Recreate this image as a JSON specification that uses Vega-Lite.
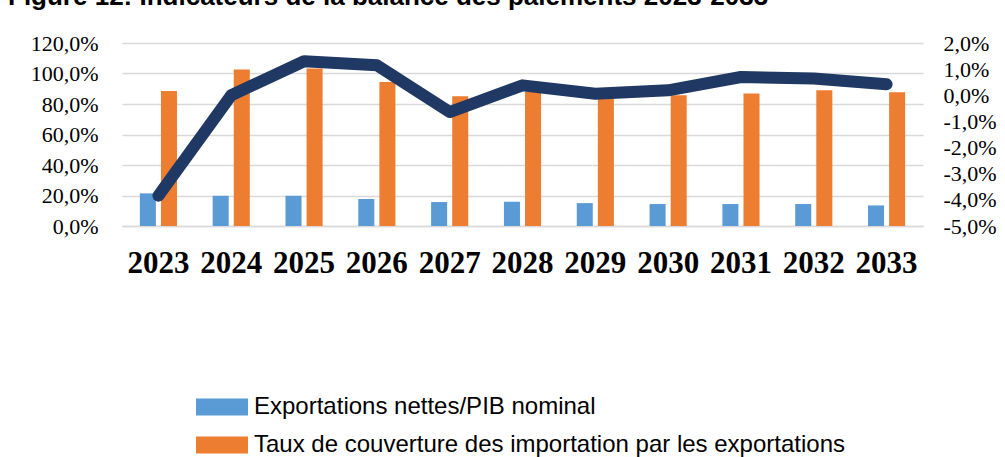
{
  "$schema": "https://vega.github.io/schema/vega-lite/v6.json",
  "width": 801,
  "height": 183,
  "autosize": {"type": "none"},
  "padding": {"left": 122, "top": 43, "right": 82, "bottom": 231},
  "background": "white",
  "title": {
    "text": "Figure 12: Indicateurs de la balance des paiements 2023-2033",
    "anchor": "start",
    "frame": "group",
    "font": "Liberation Sans",
    "fontWeight": "bold",
    "fontSize": 26,
    "color": "black",
    "offset": 0,
    "dx": -114,
    "dy": -22
  },
  "config": {
    "locale": {"number": {"decimal": ",", "thousands": " ", "grouping": [3], "currency": ["", " €"], "minus": "-"}},
    "view": {"stroke": null}
  },
  "datasets": {
    "bars": [
      {"year": "2023", "series": "Exportations nettes/PIB nominal", "value": 0.214},
      {"year": "2023", "series": "Taux de couverture des importation par les exportations", "value": 0.886},
      {"year": "2024", "series": "Exportations nettes/PIB nominal", "value": 0.198},
      {"year": "2024", "series": "Taux de couverture des importation par les exportations", "value": 1.026},
      {"year": "2025", "series": "Exportations nettes/PIB nominal", "value": 0.198},
      {"year": "2025", "series": "Taux de couverture des importation par les exportations", "value": 1.032},
      {"year": "2026", "series": "Exportations nettes/PIB nominal", "value": 0.177},
      {"year": "2026", "series": "Taux de couverture des importation par les exportations", "value": 0.945},
      {"year": "2027", "series": "Exportations nettes/PIB nominal", "value": 0.157},
      {"year": "2027", "series": "Taux de couverture des importation par les exportations", "value": 0.851},
      {"year": "2028", "series": "Exportations nettes/PIB nominal", "value": 0.159},
      {"year": "2028", "series": "Taux de couverture des importation par les exportations", "value": 0.88},
      {"year": "2029", "series": "Exportations nettes/PIB nominal", "value": 0.150},
      {"year": "2029", "series": "Taux de couverture des importation par les exportations", "value": 0.85},
      {"year": "2030", "series": "Exportations nettes/PIB nominal", "value": 0.144},
      {"year": "2030", "series": "Taux de couverture des importation par les exportations", "value": 0.858},
      {"year": "2031", "series": "Exportations nettes/PIB nominal", "value": 0.144},
      {"year": "2031", "series": "Taux de couverture des importation par les exportations", "value": 0.869},
      {"year": "2032", "series": "Exportations nettes/PIB nominal", "value": 0.144},
      {"year": "2032", "series": "Taux de couverture des importation par les exportations", "value": 0.89},
      {"year": "2033", "series": "Exportations nettes/PIB nominal", "value": 0.135},
      {"year": "2033", "series": "Taux de couverture des importation par les exportations", "value": 0.877}
    ],
    "line": [
      {"year": "2023", "solde": -0.0384},
      {"year": "2024", "solde": 0.0},
      {"year": "2025", "solde": 0.013},
      {"year": "2026", "solde": 0.0115},
      {"year": "2027", "solde": -0.0064},
      {"year": "2028", "solde": 0.0038},
      {"year": "2029", "solde": 0.0006},
      {"year": "2030", "solde": 0.0019},
      {"year": "2031", "solde": 0.0070},
      {"year": "2032", "solde": 0.0064},
      {"year": "2033", "solde": 0.0042}
    ]
  },
  "layer": [
    {
      "data": {"name": "bars"},
      "mark": {"type": "bar"},
      "encoding": {
        "x": {
          "field": "year",
          "type": "ordinal",
          "scale": {"paddingInner": 0.49, "paddingOuter": 0.245},
          "axis": {
            "title": null,
            "labelAngle": 0,
            "labelFont": "Liberation Serif",
            "labelFontWeight": "bold",
            "labelFontSize": 31,
            "labelColor": "black",
            "labelPadding": 22,
            "ticks": false,
            "domainColor": "#d9d9d9",
            "domainWidth": 1.5
          }
        },
        "xOffset": {
          "field": "series",
          "type": "nominal",
          "sort": ["Exportations nettes/PIB nominal", "Taux de couverture des importation par les exportations"],
          "scale": {"paddingInner": 0.24, "paddingOuter": 0}
        },
        "y": {
          "field": "value",
          "type": "quantitative",
          "scale": {"domain": [0, 1.2], "nice": false},
          "axis": {
            "title": null,
            "values": [0, 0.2, 0.4, 0.6, 0.8, 1.0, 1.2],
            "format": ".1%",
            "grid": true,
            "gridColor": "#d9d9d9",
            "gridWidth": 1.5,
            "domain": false,
            "ticks": false,
            "labelFont": "Liberation Serif",
            "labelFontSize": 22,
            "labelColor": "black",
            "labelPadding": 24
          }
        },
        "color": {
          "field": "series",
          "type": "nominal",
          "scale": {
            "domain": ["Exportations nettes/PIB nominal", "Taux de couverture des importation par les exportations"],
            "range": ["#5b9bd5", "#ed7d31"]
          },
          "legend": {
            "title": null,
            "orient": "none",
            "legendX": 74,
            "legendY": 338,
            "direction": "vertical",
            "symbolType": "M-1,-0.327H1V0.327H-1Z",
            "symbolSize": 2704,
            "symbolStrokeWidth": 0,
            "labelFont": "Liberation Sans",
            "labelFontSize": 24,
            "labelColor": "black",
            "labelOffset": 6,
            "labelLimit": 800,
            "rowPadding": -17
          }
        }
      }
    },
    {
      "data": {"name": "line"},
      "mark": {"type": "line", "color": "#1f3864", "strokeWidth": 12, "strokeCap": "round", "strokeJoin": "round"},
      "encoding": {
        "x": {"field": "year", "type": "ordinal"},
        "y": {
          "field": "solde",
          "type": "quantitative",
          "scale": {"domain": [-0.05, 0.02], "nice": false},
          "axis": {
            "orient": "right",
            "title": null,
            "values": [-0.05, -0.04, -0.03, -0.02, -0.01, 0, 0.01, 0.02],
            "format": ".1%",
            "grid": false,
            "domain": false,
            "ticks": false,
            "labelFont": "Liberation Serif",
            "labelFontSize": 22,
            "labelColor": "black",
            "labelPadding": 20
          }
        }
      }
    }
  ],
  "resolve": {"scale": {"y": "independent"}}
}
